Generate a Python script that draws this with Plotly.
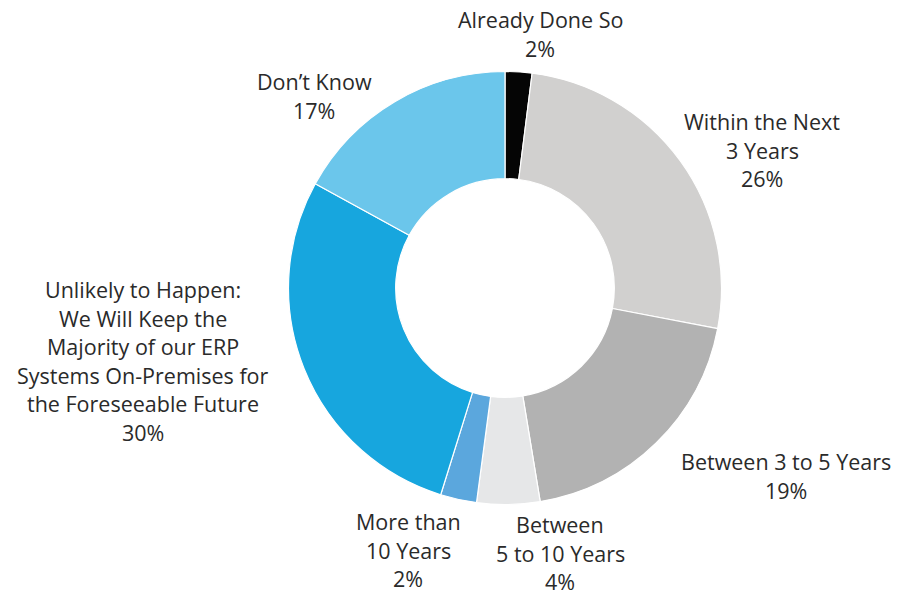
import plotly.graph_objects as go

# ---- data ----
categories = ["Already Done So", "Within the Next 3 Years", "Between 3 to 5 Years",
              "Between 5 to 10 Years", "More than 10 Years",
              "Unlikely to Happen: We Will Keep the Majority of our ERP Systems On-Premises for the Foreseeable Future",
              "Don\u2019t Know"]
# slice sizes as drawn in the picture (share of the ring)
values = [2.0, 26.0, 19.4, 4.7, 2.7, 28.2, 17.0]
# percentages printed on the labels
pct_labels = [2, 26, 19, 4, 2, 30, 17]
label_lines = [
    ["Already Done So"],
    ["Within the Next", "3 Years"],
    ["Between 3 to 5 Years"],
    ["Between", "5 to 10 Years"],
    ["More than", "10 Years"],
    ["Unlikely to Happen:", "We Will Keep the", "Majority of our ERP",
     "Systems On-Premises for", "the Foreseeable Future"],
    ["Don\u2019t Know"],
]

# ---- styles / layout ----
colors = ["#050505", "#d1d0cf", "#b2b2b2", "#e6e7e8", "#5ba7dd", "#17a6de", "#6bc6eb"]
W, H = 898, 597
cx, cy, R = 505, 288, 216.5
# label block centers in pixels
label_pos = [(540, 34), (762, 150), (786, 476), (560, 553), (408, 550), (143, 361), (314, 96)]
line_h = 28.6
font_family = "Open Sans"
font_size = 21.5
text_color = "#2a2a2a"

fig = go.Figure(go.Pie(
    labels=categories, values=values, sort=False, direction="clockwise", rotation=0,
    hole=0.505, textinfo="none", hoverinfo="label",
    marker=dict(colors=colors, line=dict(color="white", width=1.2)),
    domain=dict(x=[(cx - R) / W, (cx + R) / W], y=[(H - cy - R) / H, (H - cy + R) / H]),
    showlegend=False,
))

annotations = []
for lines, p, (px, py) in zip(label_lines, pct_labels, label_pos):
    all_lines = lines + [f"{p}%"]
    n = len(all_lines)
    for i, t in enumerate(all_lines):
        ly = py + (i - (n - 1) / 2) * line_h
        annotations.append(dict(
            x=px / W, y=1 - ly / H, xref="paper", yref="paper", text=t,
            showarrow=False, xanchor="center", yanchor="middle",
            font=dict(family=font_family, size=font_size, color=text_color)))

fig.update_layout(
    width=W, height=H, margin=dict(l=0, r=0, t=0, b=0),
    paper_bgcolor="white", plot_bgcolor="white",
    annotations=annotations,
)
fig.write_html("out.html")
